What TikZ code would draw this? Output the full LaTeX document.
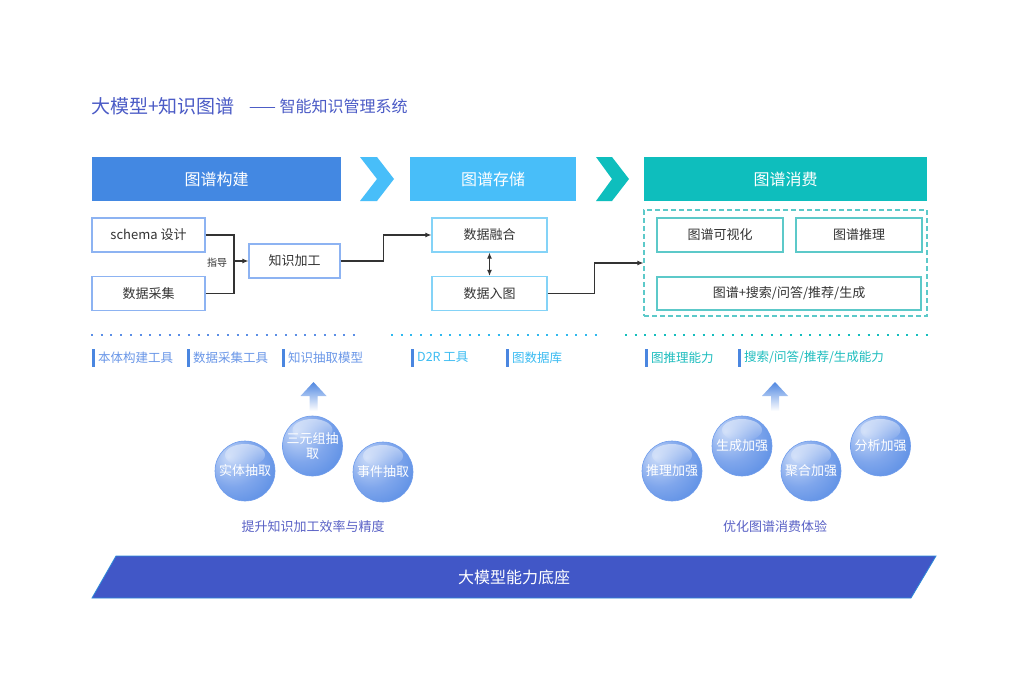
\documentclass[tikz,border=0pt]{standalone}
\usepackage{fontspec}
\setmainfont{Noto Sans CJK SC}
\usetikzlibrary{arrows.meta,fadings}
\definecolor{titlec}{HTML}{4B5BC6}
\definecolor{cA}{HTML}{4388E2}
\definecolor{cB}{HTML}{48BEF9}
\definecolor{cC}{HTML}{0EBEBD}
\definecolor{lbc}{HTML}{8DB3F2}
\definecolor{mbc}{HTML}{84D3F7}
\definecolor{rbc}{HTML}{5CC9C9}
\definecolor{linec}{HTML}{333333}
\definecolor{textc}{HTML}{333333}
\definecolor{tlA}{HTML}{6A97E8}
\definecolor{tlB}{HTML}{3CBCF2}
\definecolor{tlC}{HTML}{1DBDBE}
\definecolor{barc}{HTML}{4A86E0}
\definecolor{dotA}{HTML}{5A8EE6}
\definecolor{dotB}{HTML}{2FB8EE}
\definecolor{dotC}{HTML}{14BDBD}
\definecolor{capc}{HTML}{5A62C6}
\definecolor{basec}{HTML}{4157C7}
\definecolor{sphD}{HTML}{3C7ADE}
\definecolor{sphM}{HTML}{7FA6EC}
\definecolor{sphL}{HTML}{C9DAF8}
\definecolor{sphB}{HTML}{6E9CEC}
\pgfdeclareradialshading{sphshade}{\pgfpoint{-14bp}{12bp}}{color(0bp)=(sphL); color(22bp)=(sphM); color(48bp)=(sphD!85!sphM); color(62bp)=(sphD); color(80bp)=(sphD)}
\tikzset{
  hdr/.style={inner sep=0pt, outer sep=0pt, text=white, font=\fontsize{16}{18}\selectfont, minimum height=44pt},
  box/.style={draw=#1, line width=1.2pt, fill=white, inner sep=0pt, minimum height=34pt, font=\fontsize{13}{15}\selectfont, text=textc},
  conn/.style={draw=linec, line width=1.1pt},
  arr/.style={conn, -{Latex[length=6pt,width=5pt]}},
  darr/.style={conn, {Latex[length=6pt,width=5pt]}-{Latex[length=6pt,width=5pt]}},
  dotline/.style={line width=2pt, dash pattern=on 2pt off 7.7pt},
  tool/.style={anchor=west, inner sep=0pt, font=\fontsize{12.5}{14}\selectfont},
  sph/.style={circle, minimum size=60pt, inner sep=0pt, draw=sphB, line width=0.6pt, shading=sphshade, text=white, font=\fontsize{13}{15.5}\selectfont, align=center},
  captext/.style={text=capc, font=\fontsize{13}{15}\selectfont, inner sep=0pt},
}
\begin{document}
\begin{tikzpicture}[x=1pt,y=-1pt]
\useasboundingbox (0,0) rectangle (1029,683);
\fill[white] (0,0) rectangle (1029,683);

% title
\node[anchor=west, inner sep=0pt, text=titlec, font=\fontsize{19}{21}\selectfont] (title) at (91,106) {大模型+知识图谱};
\node[anchor=west, inner sep=0pt, text=titlec, font=\fontsize{16}{18}\selectfont] (subtitle) at (249,106) {—— 智能知识管理系统};

% headers
\node[hdr, fill=cA, minimum width=249pt] (h1) at (216.5,179) {图谱构建};
\fill[cB] (360,157) -- (377,157) -- (394,179) -- (377,201) -- (360,201) -- (377,179) -- cycle;
\node[hdr, fill=cB, minimum width=166pt] (h2) at (493,179) {图谱存储};
\fill[cC] (596,157) -- (612,157) -- (629,179) -- (612,201) -- (596,201) -- (612,179) -- cycle;
\node[hdr, fill=cC, minimum width=283pt] (h3) at (785.5,179) {图谱消费};

% left boxes
\node[box=lbc, minimum width=113pt] (schema) at (148.5,235) {schema 设计};
\node[box=lbc, minimum width=113pt] (caiji) at (148.5,293.5) {数据采集};
\node[box=lbc, minimum width=91pt] (jiagong) at (294.5,261) {知识加工};
\coordinate (j1) at (234,261);
\draw[conn] (schema.east) -| (j1);
\draw[conn] (caiji.east) -| (j1);
\draw[arr] (j1) -- (jiagong.west);
\node[inner sep=0pt, text=textc, font=\fontsize{10}{12}\selectfont] (zhidao) at (217,263) {指导};

% middle boxes
\node[box=mbc, minimum width=115pt] (ronghe) at (489.5,235) {数据融合};
\node[box=mbc, minimum width=115pt] (rutu) at (489.5,293.5) {数据入图};
\draw[arr] (jiagong.east) -- ++(43,0) |- (ronghe.west);
\draw[darr] (ronghe.south) -- (rutu.north);

% right group
\node[draw=rbc, dash pattern=on 5pt off 3pt, line width=1.2pt, minimum width=283pt, minimum height=106pt, inner sep=0pt] (dash) at (785.5,263) {};
\node[box=rbc, minimum width=126pt] (vis) at (720,235) {图谱可视化};
\node[box=rbc, minimum width=126pt] (tuili) at (859,235) {图谱推理};
\node[box=rbc, minimum width=264pt, minimum height=33pt] (gen) at (789,293.5) {图谱+搜索/问答/推荐/生成};
\draw[arr] (rutu.east) -- ++(47,0) |- (dash.west);

% dotted lines
\draw[dotline, dotA] (91,335) -- (360,335);
\draw[dotline, dotB] (391,335) -- (598,335);
\draw[dotline, dotC] (625,335) -- (934,335);

% tool labels
\foreach \bx in {92,187,282,411,506,645,738} {\fill[barc] (\bx,349) rectangle (\bx+3,367);}
\node[tool, text=tlA] (t1) at (98,357.5) {本体构建工具};
\node[tool, text=tlA] (t2) at (193,357.5) {数据采集工具};
\node[tool, text=tlA] (t3) at (288,357.5) {知识抽取模型};
\node[tool, text=tlB] (t4) at (417,357.5) {D2R 工具};
\node[tool, text=tlB] (t5) at (512,357.5) {图数据库};
\node[tool, text=tlC] (t6) at (651,357.5) {图推理能力};
\node[tool, text=tlC] (t7) at (744,357.5) {搜索/问答/推荐/生成能力};

% up arrows
\foreach \ax in {313.5,775} {
  \shade[top color=sphD!90, bottom color=white] (\ax-4,411) -- (\ax-4,396) -- (\ax-13,396) -- (\ax,382) -- (\ax+13,396) -- (\ax+4,396) -- (\ax+4,411) -- cycle;
}

% spheres
\node[sph] (s1) at (245,471) {实体抽取};
\node[sph] (s2) at (312.5,446) {三元组抽\\取};
\node[sph] (s3) at (383,472) {事件抽取};
\node[sph] (s4) at (672,471) {推理加强};
\node[sph] (s5) at (742,446) {生成加强};
\node[sph] (s6) at (811,471) {聚合加强};
\node[sph] (s7) at (880.5,446) {分析加强};
\foreach \s in {s1,s2,s3,s4,s5,s6,s7} {
  \fill[white, path fading=south, fill opacity=0.5] ([yshift=16pt]\s.center) ellipse (20 and 11);
}

\node[captext] (cap1) at (313,527) {提升知识加工效率与精度};
\node[captext] (cap2) at (775,527) {优化图谱消费体验};

% base
\draw[basec!70!cyan, line width=0.8pt, fill=basec] (116,556) -- (936,556) -- (911,598) -- (92,598) -- cycle;
\node[inner sep=0pt, text=white, font=\fontsize{16}{18}\selectfont] (base) at (514,577) {大模型能力底座};
\end{tikzpicture}
\end{document}
